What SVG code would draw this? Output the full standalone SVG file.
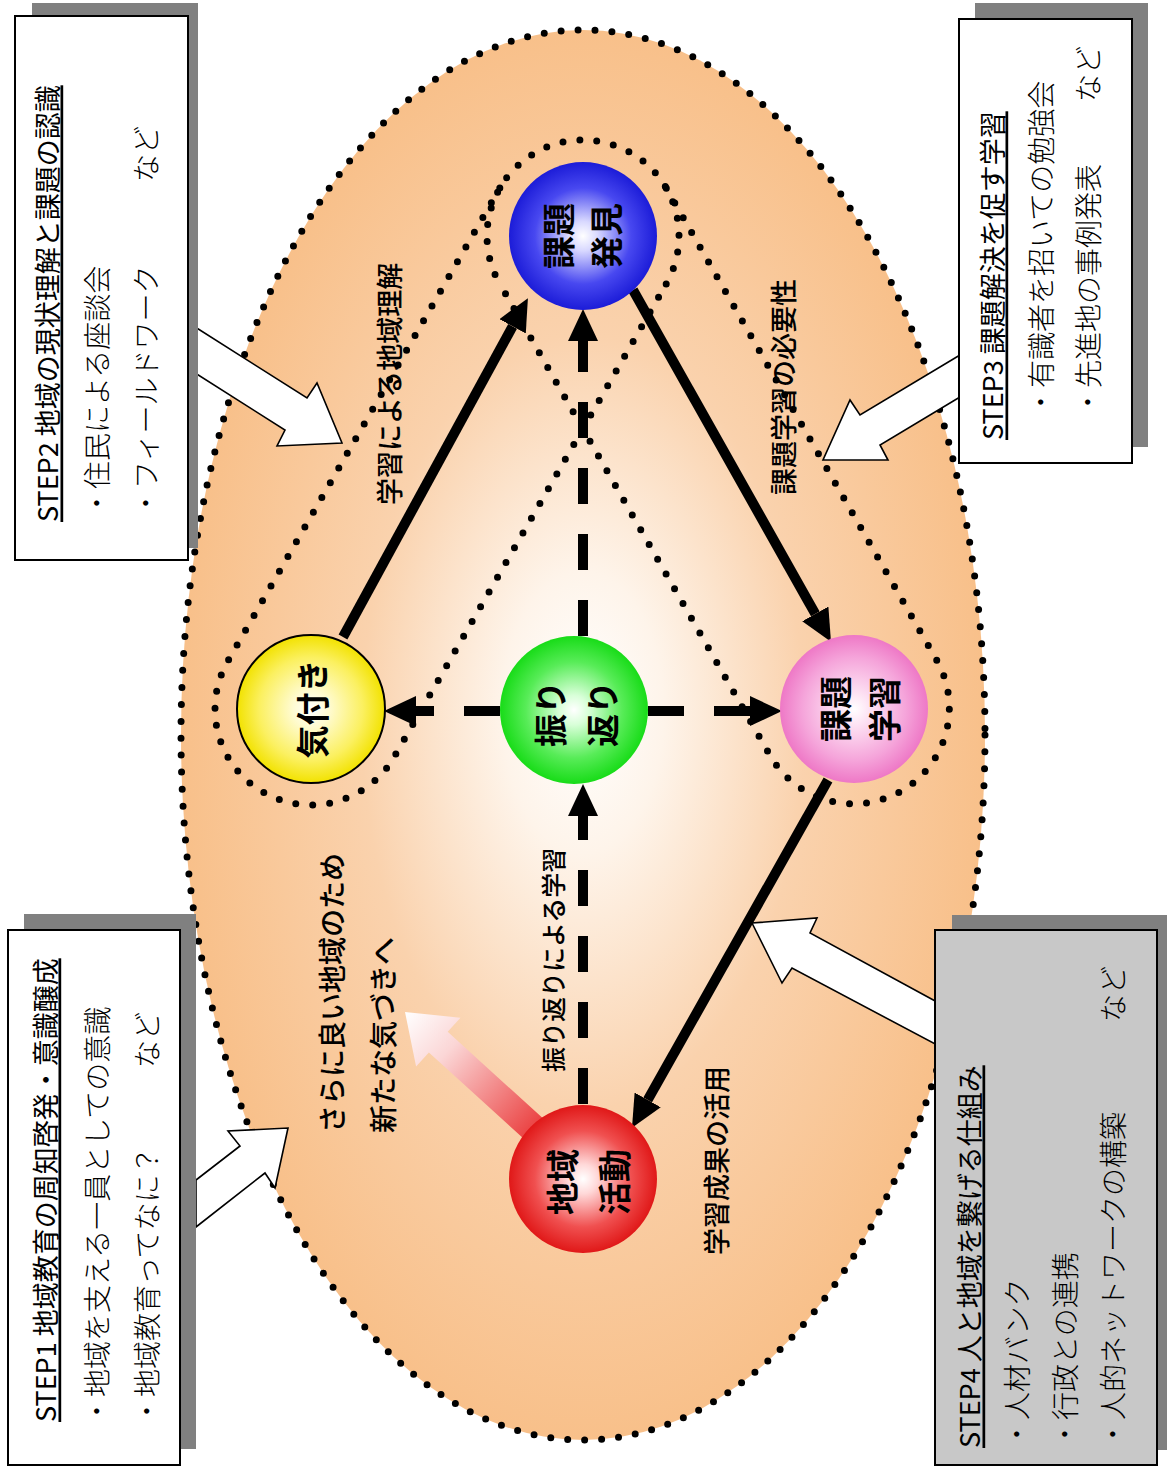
<svg xmlns="http://www.w3.org/2000/svg" width="1167" height="1477" viewBox="0 0 1167 1477">
<defs>
<style>
.t{font-family:"Noto Sans CJK JP","Noto Sans",sans-serif;fill:#000}
.title{font-size:27px;text-decoration:underline}
.bul{font-size:28px;font-weight:300}
.lab{font-size:27px;font-weight:500}
.node{font-size:33px;font-weight:700}
.dots{fill:none;stroke:#000;stroke-width:7;stroke-linecap:round;stroke-dasharray:0 17}
.box{fill:#fff;stroke:#000;stroke-width:2}
.shadow{fill:#808080}
.barrow{fill:#fff;stroke:#000;stroke-width:1.6;stroke-linejoin:miter}
.solid{fill:none;stroke:#000;stroke-width:10}
.dash{fill:none;stroke:#000;stroke-width:10;stroke-dasharray:36 30}
</style>
<radialGradient id="bg" cx="0.5" cy="0.5" r="0.5" fx="0.5" fy="0.48">
<stop offset="0" stop-color="#ffffff"/>
<stop offset="0.2" stop-color="#fef4ea"/>
<stop offset="0.55" stop-color="#fad2ad"/>
<stop offset="1" stop-color="#f8c08a"/>
</radialGradient>
<radialGradient id="gBlue" cx="0.5" cy="0.5" r="0.5">
<stop offset="0" stop-color="#ffffff"/><stop offset="0.2" stop-color="#d8d8ff"/><stop offset="0.65" stop-color="#4848f0"/><stop offset="1" stop-color="#1c1cd8"/>
</radialGradient>
<radialGradient id="gYellow" cx="0.5" cy="0.5" r="0.5">
<stop offset="0" stop-color="#ffffff"/><stop offset="0.25" stop-color="#fffbd0"/><stop offset="0.7" stop-color="#fbf060"/><stop offset="1" stop-color="#f2e200"/>
</radialGradient>
<radialGradient id="gGreen" cx="0.5" cy="0.5" r="0.5">
<stop offset="0" stop-color="#ffffff"/><stop offset="0.2" stop-color="#d8ffd8"/><stop offset="0.65" stop-color="#58ec58"/><stop offset="1" stop-color="#18dc18"/>
</radialGradient>
<radialGradient id="gPink" cx="0.5" cy="0.5" r="0.5">
<stop offset="0" stop-color="#ffffff"/><stop offset="0.2" stop-color="#fde4f4"/><stop offset="0.7" stop-color="#f5a4da"/><stop offset="1" stop-color="#ee78c6"/>
</radialGradient>
<radialGradient id="gRed" cx="0.5" cy="0.5" r="0.5">
<stop offset="0" stop-color="#ffffff"/><stop offset="0.2" stop-color="#ffd8d8"/><stop offset="0.65" stop-color="#f05050"/><stop offset="1" stop-color="#e01818"/>
</radialGradient>
<linearGradient id="gArrow" gradientUnits="userSpaceOnUse" x1="405" y1="1012" x2="548" y2="1142">
<stop offset="0" stop-color="#ffffff"/><stop offset="0.3" stop-color="#fbd6d6"/><stop offset="1" stop-color="#e82a2a"/>
</linearGradient>
<marker id="ah" markerUnits="userSpaceOnUse" viewBox="0 0 32 30" refX="0" refY="15" markerWidth="32" markerHeight="30" orient="auto">
<path d="M0,0 L32,15 L0,30 z" fill="#000"/>
</marker>
</defs>

<rect width="1167" height="1477" fill="#fff"/>

<g id="field">
<ellipse cx="583" cy="735" rx="402" ry="705" fill="url(#bg)"/>
<ellipse cx="583" cy="735" rx="402" ry="705" class="dots"/>
</g>

<g id="groups">
<path class="dots" d="M666.2,283.9 A96,96 0 1 0 499.7,283.7"/>
<path class="dots" d="M499.8,188.1 L227.8,661.1 A96,96 0 0 0 394.2,756.9 L666.2,283.9"/>
<path class="dots" d="M666.3,188.3 L937.3,661.3 A96,96 0 0 1 770.7,756.7 L499.7,283.7"/>
</g>

<g id="feedback-arrow">
<polygon fill="url(#gArrow)" points="405,1012 460.5,1017.8 447.7,1031.8 555,1129.3 536.2,1150.1 428.9,1052.6 416.1,1066.6"/>
</g>

<g id="connectors">
<line class="solid" x1="343" y1="637" x2="512.6" y2="326.3" marker-end="url(#ah)"/>
<line class="solid" x1="633" y1="290" x2="815.3" y2="613.9" marker-end="url(#ah)"/>
<line class="solid" x1="828" y1="780" x2="647.7" y2="1099.9" marker-end="url(#ah)"/>
<line class="dash" x1="583" y1="1104" x2="583" y2="816" marker-end="url(#ah)"/>
<line class="dash" x1="583" y1="636" x2="583" y2="341" marker-end="url(#ah)"/>
<line class="dash" x1="500" y1="711" x2="416" y2="711" marker-end="url(#ah)"/>
<line class="dash" x1="648" y1="711" x2="750" y2="711" marker-end="url(#ah)"/>
</g>

<g id="block-arrows">
<polygon class="barrow" points="190,323.7 307,398 317,383 342,443 277,446 285,430 190,369.7"/>
<polygon class="barrow" points="960,355 860,415 850,400 823,460 888,460 880,445 960,397"/>
<polygon class="barrow" points="196,1180 240,1146 228,1131 288,1128 275,1188 265,1173 196,1227"/>
<polygon class="barrow" points="937,1002 810,933 817,918 752,923 782,983 792,968 937,1045"/>
</g>

<g id="node-kadai-hakken">
<circle cx="583" cy="236" r="74" fill="url(#gBlue)"/>
<text class="t node" text-anchor="middle" dominant-baseline="central" transform="translate(557,236) rotate(-90)">課題</text>
<text class="t node" text-anchor="middle" dominant-baseline="central" transform="translate(605,236) rotate(-90)">発見</text>
</g>
<g id="node-kizuki">
<circle cx="311" cy="709" r="74" fill="url(#gYellow)" stroke="#000" stroke-width="2"/>
<text class="t node" text-anchor="middle" dominant-baseline="central" transform="translate(311,709) rotate(-90)">気付き</text>
</g>
<g id="node-furikaeri">
<circle cx="574" cy="710" r="74" fill="url(#gGreen)"/>
<text class="t node" text-anchor="middle" dominant-baseline="central" transform="translate(549,714) rotate(-90)">振り</text>
<text class="t node" text-anchor="middle" dominant-baseline="central" transform="translate(601,714) rotate(-90)">返り</text>
</g>
<g id="node-kadai-gakushu">
<circle cx="854" cy="709" r="74" fill="url(#gPink)"/>
<text class="t node" text-anchor="middle" dominant-baseline="central" transform="translate(834,709) rotate(-90)">課題</text>
<text class="t node" text-anchor="middle" dominant-baseline="central" transform="translate(883,709) rotate(-90)">学習</text>
</g>
<g id="node-chiiki-katsudo">
<circle cx="583" cy="1179" r="74" fill="url(#gRed)"/>
<text class="t node" text-anchor="middle" dominant-baseline="central" transform="translate(561,1182) rotate(-90)">地域</text>
<text class="t node" text-anchor="middle" dominant-baseline="central" transform="translate(613,1182) rotate(-90)">活動</text>
</g>

<g id="labels">
<text class="t lab" dominant-baseline="central" transform="translate(388,505) rotate(-90)">学習による地域理解</text>
<text class="t lab" dominant-baseline="central" transform="translate(782,495) rotate(-90)">課題学習の必要性</text>
<text class="t lab" dominant-baseline="central" style="font-size:25px" transform="translate(552,1072) rotate(-90)">振り返りによる学習</text>
<text class="t lab" dominant-baseline="central" style="font-size:28px" transform="translate(331,1133) rotate(-90)">さらに良い地域のため</text>
<text class="t lab" dominant-baseline="central" style="font-size:28px" transform="translate(382,1133) rotate(-90)">新たな気づきへ</text>
<text class="t lab" dominant-baseline="central" transform="translate(715,1255) rotate(-90)">学習成果の活用</text>
</g>

<g id="step1">
<rect class="shadow" x="24" y="914" width="172" height="535"/>
<rect class="box" x="8" y="930" width="172" height="535"/>
<text class="t title" dominant-baseline="central" transform="translate(44,1422) rotate(-90)">STEP1 地域教育の周知啓発・意識醸成</text>
<text class="t bul" dominant-baseline="central" transform="translate(96,1425) rotate(-90)">・地域を支える一員としての意識</text>
<text class="t bul" dominant-baseline="central" transform="translate(146,1425) rotate(-90)">・地域教育ってなに？</text>
<text class="t bul" dominant-baseline="central" transform="translate(146,1068) rotate(-90)">など</text>
</g>

<g id="step2">
<rect class="shadow" x="32" y="3" width="166" height="545"/>
<rect class="box" x="15" y="16" width="173" height="544"/>
<text class="t title" dominant-baseline="central" transform="translate(46,522) rotate(-90)">STEP2 地域の現状理解と課題の認識</text>
<text class="t bul" dominant-baseline="central" transform="translate(96,517) rotate(-90)">・住民による座談会</text>
<text class="t bul" dominant-baseline="central" transform="translate(145,517) rotate(-90)">・フィールドワーク</text>
<text class="t bul" dominant-baseline="central" transform="translate(145,182) rotate(-90)">など</text>
</g>

<g id="step3">
<rect class="shadow" x="975" y="3" width="173" height="444"/>
<rect class="box" x="959" y="19" width="173" height="444"/>
<text class="t title" dominant-baseline="central" transform="translate(991,440) rotate(-90)">STEP3 課題解決を促す学習</text>
<text class="t bul" dominant-baseline="central" transform="translate(1040,416) rotate(-90)">・有識者を招いての勉強会</text>
<text class="t bul" dominant-baseline="central" transform="translate(1087,416) rotate(-90)">・先進地の事例発表</text>
<text class="t bul" dominant-baseline="central" transform="translate(1087,102) rotate(-90)">など</text>
</g>

<g id="step4">
<rect class="shadow" x="952" y="915" width="215" height="535"/>
<rect class="box" x="935" y="930" width="222" height="535" style="fill:#c8c8c8"/>
<text class="t title" dominant-baseline="central" transform="translate(968,1448) rotate(-90)">STEP4 人と地域を繋げる仕組み</text>
<text class="t bul" dominant-baseline="central" transform="translate(1016,1448) rotate(-90)">・人材バンク</text>
<text class="t bul" dominant-baseline="central" transform="translate(1064,1448) rotate(-90)">・行政との連携</text>
<text class="t bul" dominant-baseline="central" transform="translate(1112,1448) rotate(-90)">・人的ネットワークの構築</text>
<text class="t bul" dominant-baseline="central" transform="translate(1112,1022) rotate(-90)">など</text>
</g>
</svg>
